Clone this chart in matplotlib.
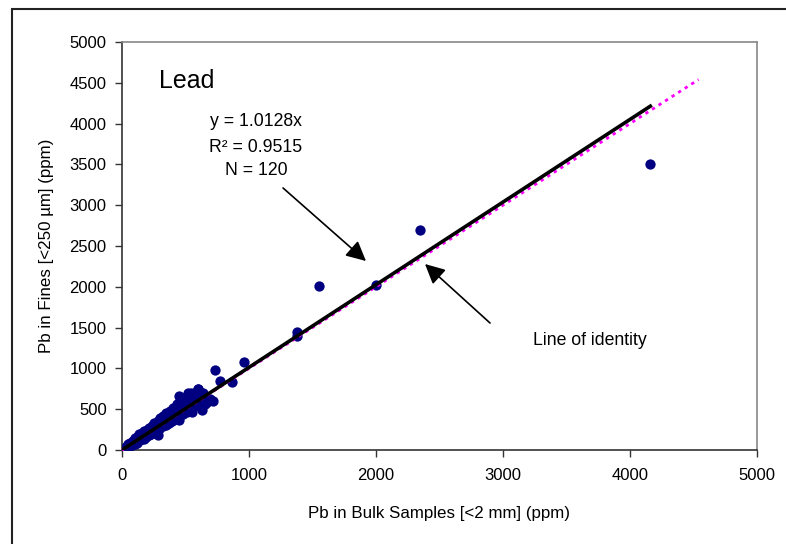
import matplotlib
matplotlib.use("Agg")
import matplotlib.pyplot as plt
from matplotlib.patches import Rectangle

plt.rcParams['font.family'] = ['Liberation Sans', 'DejaVu Sans']

# Pb in bulk samples (<2 mm), ppm
bulk = [4160, 2350, 2000, 1550, 1375, 1375, 960, 730, 775, 870, 715, 630, 600, 520, 445, 285, 550, 445,
        35, 40, 45, 50, 55, 60, 62, 65, 70, 75,
        80, 85, 90, 95, 100, 100, 105, 110, 115, 120,
        125, 130, 135, 140, 145, 150, 155, 160, 165, 170,
        175, 180, 185, 190, 195, 200, 205, 210, 215, 220,
        225, 230, 235, 240, 245, 250, 255, 260, 265, 270,
        280, 285, 290, 295, 300, 305, 310, 320, 325, 330,
        340, 345, 350, 360, 365, 370, 380, 385, 390, 395,
        400, 410, 415, 420, 430, 435, 440, 450, 460, 465,
        470, 480, 490, 495, 500, 510, 520, 530, 540, 555,
        560, 575, 580, 590, 610, 620, 640, 655, 670, 690,
        600, 545]
# Pb in fines (<250 um), ppm
fines = [3510, 2700, 2025, 2010, 1445, 1400, 1075, 975, 845, 835, 605, 490, 745, 700, 665, 185, 465, 370,
         40, 55, 35, 70, 50, 90, 60, 45, 80, 100,
         65, 110, 85, 120, 75, 150, 100, 130, 90, 160,
         110, 140, 200, 120, 170, 135, 210, 150, 180, 140,
         230, 170, 200, 160, 250, 190, 220, 180, 270, 210,
         240, 200, 300, 230, 260, 215, 330, 250, 290, 240,
         360, 280, 310, 260, 390, 300, 330, 290, 420, 320,
         360, 310, 450, 350, 400, 330, 480, 380, 420, 350,
         520, 400, 450, 380, 560, 430, 470, 410, 600, 450,
         500, 440, 640, 480, 520, 460, 560, 500, 620, 520,
         580, 540, 660, 560, 640, 600, 700, 560, 590, 620,
         750, 700]

slope = 1.0128
fit_x = [0, 4160]
identity_x = [0, 4540]

fig = plt.figure(figsize=(7.86, 5.44), dpi=100)
fig.add_artist(Rectangle((12/786, -0.2), 1.2, 1.2 - 9/544, transform=fig.transFigure,
                         fill=False, edgecolor='#222222', lw=1.5))
ax = fig.add_axes([122/786, 1-450/544, 635/786, 408/544])

ax.scatter(bulk, fines, s=55, color='#000080', zorder=3, linewidths=0)
ax.plot(identity_x, identity_x, color='#ff00ff', ls=(0, (1.2, 1.6)), lw=2, zorder=4, clip_on=False)
ax.plot(fit_x, [slope*v for v in fit_x], color='black', lw=2.6, zorder=5)

ax.set_xlim(0, 5000)
ax.set_ylim(0, 5000)
ax.set_xticks(range(0, 5001, 1000))
ax.set_yticks(range(0, 5001, 500))
ax.tick_params(direction='out', length=5, width=1, labelsize=12, color='#333333', pad=8)
ax.tick_params(axis='y', pad=6)
for s in ['left', 'bottom']:
    ax.spines[s].set_color('#333333')
    ax.spines[s].set_linewidth(1.2)
for s in ['top', 'right']:
    ax.spines[s].set_color('#888888')
    ax.spines[s].set_linewidth(1.2)

ax.set_xlabel('Pb in Bulk Samples [<2 mm] (ppm)', fontsize=12.2)
ax.set_ylabel('Pb in Fines [<250 µm] (ppm)', fontsize=12.2)
ax.xaxis.set_label_coords(0.5, -0.137)
ax.yaxis.set_label_coords(-0.107, 0.5)

ax.text(291, 4522, 'Lead', fontsize=18, ha='left', va='center')
ax.text(1055, 4020, 'y = 1.0128x', fontsize=12.7, ha='center', va='center')
ax.text(1055, 3713, 'R² = 0.9515', fontsize=12.7, ha='center', va='center')
ax.text(1055, 3431, 'N = 120', fontsize=12.7, ha='center', va='center')
ax.text(3685, 1348, 'Line of identity', fontsize=12.7, ha='center', va='center')

ap = dict(arrowstyle='-|>,head_length=0.6,head_width=0.3', mutation_scale=20,
          lw=1.2, color='black', shrinkA=0, shrinkB=0)
ax.annotate('', xy=(1921, 2316), xytext=(1268, 3211), arrowprops=ap, zorder=6)
ax.annotate('', xy=(2386, 2279), xytext=(2898, 1556), arrowprops=ap, zorder=6)

fig.savefig('out.png', dpi=100)
